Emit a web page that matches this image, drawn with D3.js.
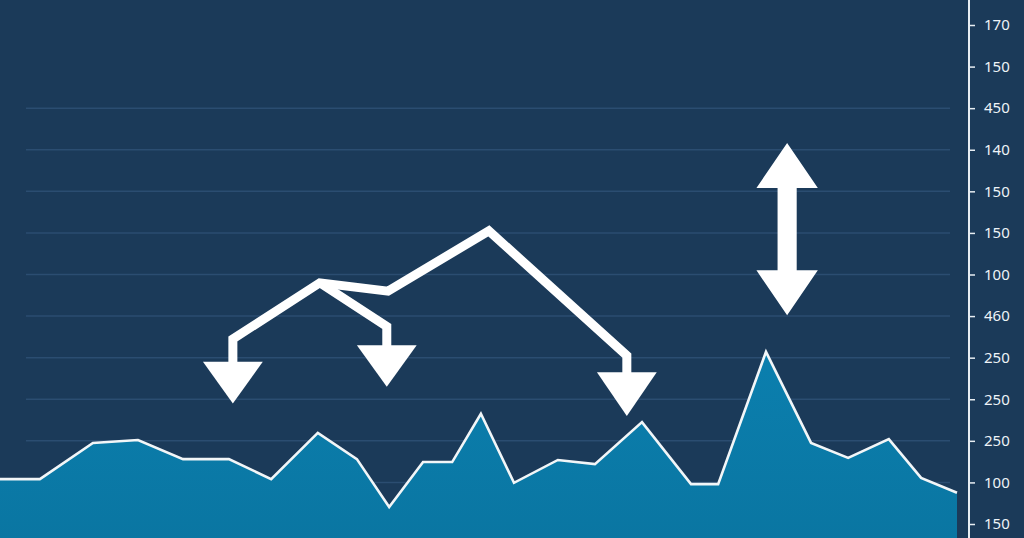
<!DOCTYPE html>
<html><head><meta charset="utf-8">
<script src="https://cdn.jsdelivr.net/npm/d3@7"></script>
<style>html,body{margin:0;padding:0;background:#1b3a59;overflow:hidden}</style>
</head><body>
<svg id="c" width="1024" height="538"></svg>
<script>
// ---- data ----
const tickLabels = ["170","150","450","140","150","150","100","460","250","250","250","100","150"];
const gridFrom = 2; // gridlines drawn from third tick down
const xPos = [0,1.0,2.33,3.46,4.59,5.74,6.80,7.97,8.95,9.76,10.61,11.34,12.06,12.89,13.99,14.92,16.10,17.33,18.01,19.21,20.34,21.27,22.29,23.10,24];
const values = [10.8,10.8,19.5,20.2,15.6,15.6,10.8,21.9,15.6,4.1,14.9,14.9,26.5,9.9,15.4,14.4,24.5,9.6,9.6,41.4,19.5,15.9,20.4,11.1,7.5];
// annotation arrows (data space: x position, value)
const mainPath = [[5.84,38.0],[5.84,44.5],[8.02,58.0],[9.73,56.0],[12.26,70.5],[15.72,40.5],[15.72,35.5]];
const branchPath = [[8.02,58.0],[9.70,47.5],[9.70,42.0]];
const heads = [{x:5.84,top:39.0,tip:29.0},{x:9.70,top:43.0,tip:33.0},{x:15.72,top:36.5,tip:26.0}];
const dbl = {x:19.74, top:91.6, topBase:80.8, botBase:61.0, bot:50.2};

// ---- scales ----
const W=1024,H=538;
const svg=d3.select("#c");
const x=d3.scaleLinear().domain([0,24]).range([0,957]);
const y=d3.scaleLinear().domain([0,120]).range([524,25]);
const yTicks=d3.scalePoint().domain(d3.range(tickLabels.length)).range([25,524]);

svg.append("rect").attr("width",W).attr("height",H).attr("fill","#1b3a59");

// gridlines
svg.append("g").selectAll("line").data(d3.range(gridFrom,tickLabels.length)).join("line")
  .attr("x1",26).attr("x2",950)
  .attr("y1",d=>yTicks(d)).attr("y2",d=>yTicks(d))
  .attr("stroke","#2b4d71").attr("stroke-width",1.5);

const pts=xPos.map((d,i)=>({x:d,v:values[i]}));
const grad=svg.append("defs").append("linearGradient").attr("id","g").attr("x1",0).attr("x2",0).attr("y1",0).attr("y2",1);
grad.append("stop").attr("offset","0%").attr("stop-color","#0b7fae");
grad.append("stop").attr("offset","100%").attr("stop-color","#0a76a2");
svg.append("path").datum(pts)
  .attr("d",d3.area().x(d=>x(d.x)).y0(H).y1(d=>y(d.v)))
  .attr("fill","url(#g)");
svg.append("path").datum(pts)
  .attr("d",d3.line().x(d=>x(d.x)).y(d=>y(d.v)))
  .attr("fill","none").attr("stroke","#f2f6f8").attr("stroke-width",2.6).attr("stroke-linejoin","miter");

// arrows
const ln=d3.line().x(d=>x(d[0])).y(d=>y(d[1]));
const aG=svg.append("g").attr("fill","none").attr("stroke","#ffffff").attr("stroke-width",9)
  .attr("stroke-linejoin","miter").attr("stroke-miterlimit",3);
[mainPath,branchPath].forEach(p=>aG.append("path").attr("d",ln(p)));
const hw=0.75; // half width in x units
svg.append("g").selectAll("path").data(heads).join("path")
  .attr("d",h=>`M${x(h.x-hw)},${y(h.top)}L${x(h.x+hw)},${y(h.top)}L${x(h.x)},${y(h.tip)}Z`)
  .attr("fill","#ffffff");
// double arrow
const sw=0.24;
svg.append("path").attr("fill","#ffffff").attr("d",
  `M${x(dbl.x)},${y(dbl.top)}L${x(dbl.x+hw+0.02)},${y(dbl.topBase)}L${x(dbl.x+sw)},${y(dbl.topBase)}L${x(dbl.x+sw)},${y(dbl.botBase)}L${x(dbl.x+hw+0.02)},${y(dbl.botBase)}L${x(dbl.x)},${y(dbl.bot)}L${x(dbl.x-hw-0.02)},${y(dbl.botBase)}L${x(dbl.x-sw)},${y(dbl.botBase)}L${x(dbl.x-sw)},${y(dbl.topBase)}L${x(dbl.x-hw-0.02)},${y(dbl.topBase)}Z`);

// right axis
const ax=svg.append("g").attr("transform","translate(969,0)")
  .call(d3.axisRight(yTicks).tickSize(6).tickPadding(9).tickFormat(i=>tickLabels[i]));
ax.select(".domain").remove();
ax.append("line").attr("x1",0).attr("x2",0).attr("y1",0).attr("y2",H).attr("stroke","#e8eef3").attr("stroke-width",2);
ax.selectAll(".tick line").attr("stroke","#e8eef3").attr("stroke-width",1.5);
ax.selectAll(".tick text").attr("fill","#eef3f7").attr("font-family","'Noto Sans',sans-serif").attr("font-size",15);
</script>
</body></html>
